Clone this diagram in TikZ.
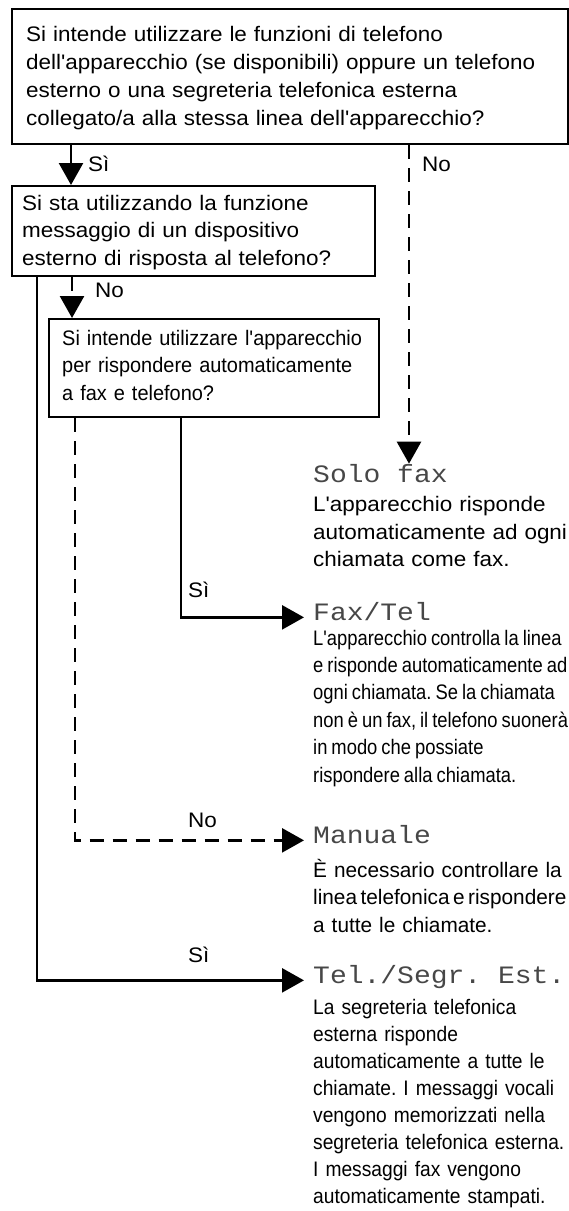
\documentclass[tikz,border=0pt]{standalone}
\usepackage{fontspec}
\setmainfont{Liberation Sans}
\newfontfamily\fwide[FakeStretch=1.07]{Liberation Sans}
\newfontfamily\fqbox[FakeStretch=0.95]{Liberation Sans}
\newfontfamily\ffax[FakeStretch=0.875]{Liberation Sans}
\newfontfamily\fman[FakeStretch=0.99]{Liberation Sans}
\newfontfamily\ftel[FakeStretch=0.915]{Liberation Sans}
\newfontfamily\flcd[FakeStretch=1.12]{Liberation Mono}
\newcommand\tightsp[1]{\spaceskip=#1\relax}
\usetikzlibrary{arrows.meta}
\tikzset{
  qbox/.style={draw, line width=2pt, inner sep=0pt, anchor=north west},
  txt/.style={anchor=base west, inner sep=0pt, text width=#1, align=left},
  lbl/.style={anchor=base west, inner sep=0pt, font=\fwide\fontsize{21}{28}\selectfont},
  ttl/.style={anchor=base west, inner sep=0pt, text=black!72, font=\flcd\fontsize{25}{28}\selectfont},
  conn/.style={line width=2.6pt, -{Triangle[length=22pt,width=24pt]}},
  dconn/.style={conn, dash pattern=on 14pt off 9pt}
}
\begin{document}
\frenchspacing
\begin{tikzpicture}[x=1pt,y=-1pt]
\useasboundingbox (0,0) rectangle (568,1211);
% question boxes
\node[qbox, minimum width=556pt, minimum height=135pt] (q1) at (11,8) {};
\node[qbox, minimum width=363pt, minimum height=90pt] (q2) at (11,185) {};
\node[qbox, minimum width=330pt, minimum height=98pt] (q3) at (48,318) {};
% question texts
\node[txt=540pt, font=\fwide\fontsize{21}{28}\selectfont] (t1) at (26,41)
 {Si intende utilizzare le funzioni di telefono\\
  dell'apparecchio (se disponibili) oppure un telefono\\
  esterno o una segreteria telefonica esterna\\
  collegato/a alla stessa linea dell'apparecchio?};
\node[txt=340pt, font=\fwide\fontsize{21}{27.5}\selectfont] (t2) at (22,210)
 {Si sta utilizzando la funzione\\
  messaggio di un dispositivo\\
  esterno di risposta al telefono?};
\node[txt=310pt, font=\fqbox\fontsize{21}{27.5}\selectfont] (t3) at (62,345)
 {Si intende utilizzare l'apparecchio\\
  per rispondere automaticamente\\
  a fax e telefono?};
% result titles
\node[ttl] (solo) at (313,482) {Solo fax};
\node[ttl] (fax) at (313,620) {Fax/Tel};
\node[ttl] (man) at (313,843) {Manuale};
\node[ttl] (tel) at (313,983) {Tel./Segr. Est.};
% result descriptions
\node[txt=320pt, font=\fwide\fontsize{21}{27.5}\selectfont] (solod) at (313,511.5)
 {L'apparecchio risponde\\
  automaticamente ad ogni\\
  chiamata come fax.};
\node[txt=320pt, font=\ffax\fontsize{21}{27.4}\selectfont] (faxd) at (313,645)
 {\tightsp{4pt}L'apparecchio controlla la linea\\
  e risponde automaticamente ad\\
  ogni chiamata. Se la chiamata\\
  non è un fax, il telefono suonerà\\
  in modo che possiate\\
  rispondere alla chiamata.};
\node[txt=320pt, font=\fman\fontsize{21}{27.5}\selectfont] (mand) at (313,877)
 {È necessario controllare la\\
  {\tightsp{3.5pt}linea telefonica e rispondere}\\
  a tutte le chiamate.};
\node[txt=320pt, font=\ftel\fontsize{21}{27}\selectfont] (teld) at (313,1014)
 {La segreteria telefonica\\
  esterna risponde\\
  automaticamente a tutte le\\
  chiamate. I messaggi vocali\\
  vengono memorizzati nella\\
  segreteria telefonica esterna.\\
  I messaggi fax vengono\\
  automaticamente stampati.};
% connectors
\draw[conn] ([xshift=60pt]q1.south west) -- ([xshift=60pt]q2.north west);
\draw[dconn] ([xshift=398pt]q1.south west) -- ([xshift=398pt]q1.south west |- solo.north);
\draw[dconn] ([xshift=61pt]q2.south west) -- ([xshift=24pt]q3.north west);
\draw[conn] ([xshift=133pt]q3.south west) |- ([xshift=-9pt]fax.mid west);
\draw[dconn] ([xshift=27pt]q3.south west) |- ([xshift=-9pt]man.mid west);
\draw[conn] ([xshift=26pt]q2.south west) |- ([xshift=-9pt]tel.mid west);
% labels
\node[lbl] (l1) at (88,171) {Sì};
\node[lbl] (l2) at (422,171) {No};
\node[lbl] (l3) at (95,297) {No};
\node[lbl] (l4) at (188,597) {Sì};
\node[lbl] (l5) at (188,827) {No};
\node[lbl] (l6) at (188,962) {Sì};
\end{tikzpicture}
\end{document}
